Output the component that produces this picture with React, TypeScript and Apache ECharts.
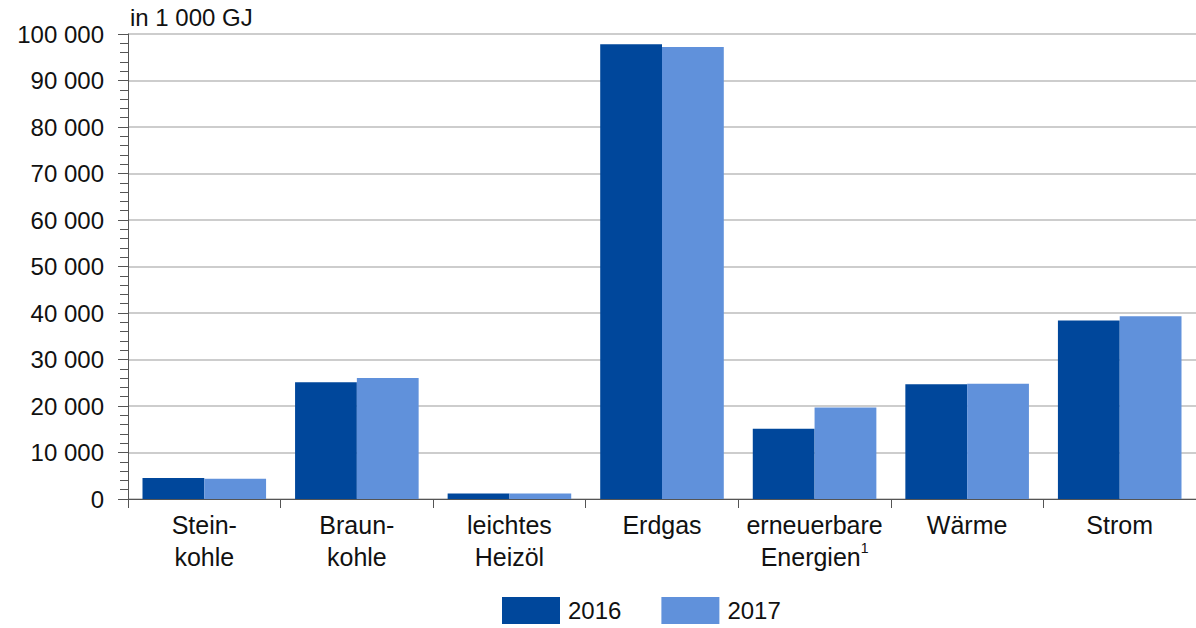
import React, { useEffect, useRef } from "react";
import * as echarts from "echarts";

const categories = ["Stein-\nkohle", "Braun-\nkohle", "leichtes\nHeizöl", "Erdgas", "erneuerbare\nEnergien{sup|1}", "Wärme", "Strom"];
const values2016 = [4500, 25100, 1200, 97800, 15100, 24700, 38400];
const values2017 = [4350, 26000, 1200, 97200, 19700, 24800, 39300];
const seriesNames = ["2016", "2017"];
const unitLabel = "in 1 000 GJ";

const FONT = "Liberation Sans, Arial, sans-serif";

export default function App() {
  const ref = useRef<HTMLDivElement>(null);
  useEffect(() => {
    document.body.style.margin = "0";
    const chart = echarts.init(ref.current!, null, { renderer: "svg" });
    chart.setOption({
      animation: false,
      textStyle: { fontFamily: FONT },
      grid: { left: 128, right: -4, top: 34, bottom: 129, containLabel: false },
      legend: {
        data: seriesNames,
        left: 502,
        top: 597,
        padding: 0,
        itemWidth: 58,
        itemHeight: 27,
        itemGap: 40,
        icon: "rect",
        textStyle: { fontSize: 24, lineHeight: 27, color: "#111", fontFamily: FONT, padding: [0, 0, 0, 3] },
      },
      graphic: [
        {
          type: "text",
          left: 130,
          top: 5,
          style: { text: unitLabel, fontSize: 24, fill: "#111", fontFamily: FONT },
        },
      ],
      xAxis: {
        type: "category",
        data: categories,
        axisLine: { lineStyle: { color: "#555", width: 1 } },
        axisTick: { show: true, length: 9, lineStyle: { color: "#555" } },
        axisLabel: {
          fontSize: 25,
          color: "#111",
          lineHeight: 32,
          margin: 10,
          fontFamily: FONT,
          interval: 0,
          rich: {
            sup: { fontSize: 14, verticalAlign: "top", lineHeight: 32, padding: [0, 0, 12, 0], color: "#111" },
          },
        },
      },
      yAxis: {
        type: "value",
        min: 0,
        max: 100000,
        interval: 10000,
        axisLine: { show: true, lineStyle: { color: "#555" } },
        axisTick: { show: true, length: 10, lineStyle: { color: "#555" } },
        minorTick: { show: true, splitNumber: 5, length: 8, lineStyle: { color: "#555" } },
        splitLine: { lineStyle: { color: "#bdbdbd", width: 1.5 } },
        axisLabel: {
          fontSize: 24,
          color: "#111",
          margin: 24,
          fontFamily: FONT,
          formatter: (v: number) => String(v).replace(/\B(?=(\d{3})+(?!\d))/g, " "),
        },
      },
      series: [
        {
          name: seriesNames[0],
          type: "bar",
          data: values2016,
          barGap: "0%",
          barCategoryGap: "19%",
          itemStyle: { color: "#00479b" },
        },
        {
          name: seriesNames[1],
          type: "bar",
          data: values2017,
          barGap: "0%",
          barCategoryGap: "19%",
          itemStyle: { color: "#6091db" },
        },
      ],
    });
    return () => chart.dispose();
  }, []);
  return <div ref={ref} style={{ width: 1196, height: 628 }} />;
}
